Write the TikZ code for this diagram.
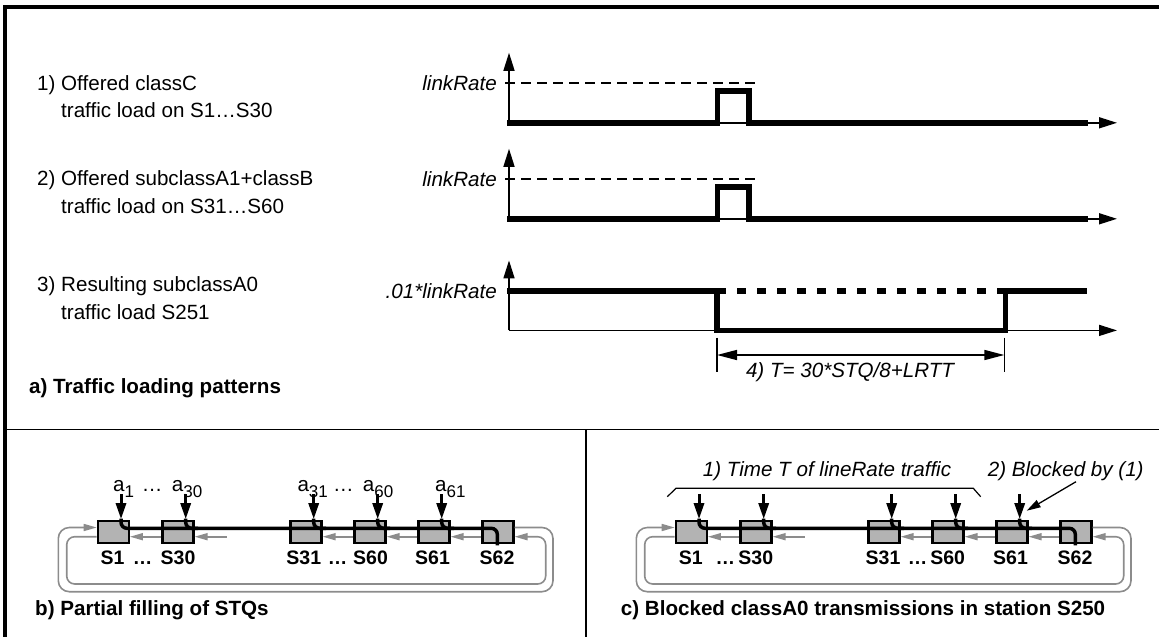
\documentclass[tikz,border=0pt]{standalone}
\usepackage{fontspec}
\setmainfont{Liberation Sans}
\usetikzlibrary{arrows.meta}
\definecolor{boxgray}{HTML}{B3B3B3}
\definecolor{ringgray}{HTML}{8C8C8C}
\newcommand{\fs}[1]{\fontsize{#1}{#1}\selectfont}
\newcommand{\sbs}[1]{\raisebox{-5.5pt}{\fs{17}#1}}
\begin{document}
\begin{tikzpicture}[x=1pt,y=-1pt,
  txt/.style={font=\fs{20.6}, inner sep=0pt, anchor=base west},
  itxt/.style={font=\fs{20.6}\itshape, inner sep=0pt},
  btxt/.style={font=\fs{20.6}\bfseries, inner sep=0pt, anchor=base west},
  slabel/.style={font=\fs{19.5}\bfseries, inner sep=0pt, anchor=base},
  axisline/.style={line width=1.5pt, -{Triangle[length=18pt,width=11pt]}},
  rateline/.style={line width=1.5pt, dash pattern=on 10pt off 6pt},
  sigline/.style={line width=5.6pt, line join=miter, line cap=butt},
  dimline/.style={line width=1.5pt},
  stq/.style={draw, line width=2.2pt, fill=boxgray, minimum width=31pt, minimum height=22.5pt, inner sep=0pt},
  gline/.style={draw=ringgray, line width=1.6pt},
  garrow/.style={gline, -{Triangle[length=13pt,width=7pt]}},
  dnarrow/.style={line width=3pt, -{Triangle[length=16pt,width=10pt]}},
  bring/.style={line width=3.5pt, rounded corners=6pt},
]
\useasboundingbox (0,0) rectangle (1159,637);
% frame
\draw[line width=3.7pt, line join=miter] (5,637) -- (5,7.2) -- (1159,7.2);
\draw[line width=1.3pt] (5,429.3) -- (1159,429.3);
\draw[line width=1.3pt] (586,429.3) -- (586,637);

% left texts
\node[txt] (t1a) at (37,90) {1) Offered classC};
\node[txt] (t1b) at (61,117.5) {traffic load on S1…S30};
\node[txt] (t2a) at (37,185.6) {2) Offered subclassA1+classB};
\node[txt] (t2b) at (61,213.2) {traffic load on S31…S60};
\node[txt] (t3a) at (37,291.5) {3) Resulting subclassA0};
\node[txt] (t3b) at (61,319) {traffic load S251};
\node[btxt] (ta) at (29,393.5) {a) Traffic loading patterns};

% graphs 1 and 2
\foreach \b/\n in {122.8/1,218.8/2}{
  \coordinate (g\n o) at (509,\b);
  \coordinate (g\n y) at (509,\b-70);
  \coordinate (g\n x) at (1117,\b);
  \draw[axisline] (g\n o) -- (g\n y);
  \draw[axisline] (g\n o) -- (g\n x);
  \draw[rateline] (505,\b-40) -- (758,\b-40);
  \draw[sigline] (507,\b) -- (717.5,\b) -- (717.5,\b-32) -- (749,\b-32) -- (749,\b) -- (1088,\b);
  \node[itxt,anchor=east] (lr\n) at (497,\b-40) {linkRate};
}

% graph 3
\coordinate (g3o) at (509,330.4);
\coordinate (g3y) at (509,260.4);
\coordinate (g3x) at (1117,330.4);
\draw[axisline] (g3o) -- (g3y);
\draw[axisline] (g3o) -- (g3x);
\draw[sigline] (507,290.8) -- (717,290.8) -- (717,330.5) -- (1005.5,330.5) -- (1005.5,290.8) -- (1087.3,290.8);
\draw[sigline, dash pattern=on 9pt off 11pt] (717,290.8) -- (1005.5,290.8);
\node[itxt,anchor=east] (lr3) at (497,290.8) {.01*linkRate};

% dimension
\coordinate (d1t) at (717,337.7);
\coordinate (d1b) at (717,371.7);
\coordinate (d2t) at (1004.3,337.7);
\coordinate (d2b) at (1004.3,371.7);
\draw[dimline] (d1t) -- (d1b);
\draw[dimline] (d2t) -- (d2b);
\coordinate (dl) at (717,355);
\coordinate (dr) at (1004.3,355);
\draw[dimline, {Triangle[length=20pt,width=10pt]}-{Triangle[length=20pt,width=10pt]}] (dl) -- (dr);
\node[itxt, anchor=base] (tT) at (850,377) {4) T= 30*STQ/8+LRTT};

% station panels
\foreach \dx/\p in {0/b,578/c}{
\begin{scope}[xshift=\dx pt]
  \foreach \cx/\i in {113.3/1,178/2,306/3,370/4,434/5,498/6}{
    \node[stq] (\p s\i) at (\cx,532) {};
  }
  % gray arrows between boxes (inner ring)
  \draw[garrow] ([yshift=-4.7pt]\p s2.west) -- ([yshift=-4.7pt]\p s1.east);
  \draw[garrow] (226.7,536.7) -- ([yshift=-4.7pt]\p s2.east);
  \draw[garrow] ([yshift=-4.7pt]\p s4.west) -- ([yshift=-4.7pt]\p s3.east);
  \draw[garrow] ([yshift=-4.7pt]\p s5.west) -- ([yshift=-4.7pt]\p s4.east);
  \draw[garrow] ([yshift=-4.7pt]\p s6.west) -- ([yshift=-4.7pt]\p s5.east);
  \draw[garrow, rounded corners=8pt] ([yshift=-4.7pt]\p s1.west) -- (66.7,536.7) -- (66.7,584) -- (545.7,584) -- (545.7,536.7) -- ([yshift=-4.7pt]\p s6.east);
  % outer ring
  \draw[garrow, rounded corners=11pt] ([yshift=4.5pt]\p s6.east) -- (553,527.5) -- (553,591.7) -- (58.3,591.7) -- (58.3,527.5) -- ([yshift=4.5pt]\p s1.west);
  % black arrows and transit line
  \foreach \i in {1,...,5}{
    \draw[dnarrow] ([xshift=7.7pt,yshift=25.5pt]\p s\i.north) -- ([xshift=7.7pt,yshift=0.5pt]\p s\i.north);
  }
  \draw[bring] ([xshift=7.7pt,yshift=1pt]\p s1.north) |- ([xshift=-0.7pt,yshift=3.7pt]\p s6.center) -- ([xshift=-0.7pt,yshift=-1pt]\p s6.south);
  \foreach \i in {2,...,5}{
    \draw[bring] ([xshift=7.7pt,yshift=1pt]\p s\i.north) |- ([xshift=20pt,yshift=3.7pt]\p s\i.center);
  }
\end{scope}
}

% panel b labels
\node[txt] (a1) at (113,491.7) {a\sbs{1}};
\node[txt] (ad1) at (141.7,491.7) {…};
\node[txt] (a30) at (171.7,491.7) {a\sbs{30}};
\node[txt] (a31) at (297.3,491.7) {a\sbs{31}};
\node[txt] (ad2) at (333,491.7) {…};
\node[txt] (a60) at (362.7,491.7) {a\sbs{60}};
\node[txt] (a61) at (435,491.7) {a\sbs{61}};

\node[slabel] (lb1) at (112.5,564.3) {S1};
\node[slabel] (lbd1) at (142.5,564.3) {…};
\node[slabel] (lb30) at (178,564.3) {S30};
\node[slabel] (lb31) at (303.8,564.3) {S31};
\node[slabel] (lbd2) at (337.5,564.3) {…};
\node[slabel] (lb60) at (370.5,564.3) {S60};
\node[slabel] (lb61) at (432.5,564.3) {S61};
\node[slabel] (lb62) at (497,564.3) {S62};
\node[btxt] (tb) at (35,615) {b) Partial filling of STQs};

% panel c labels
\node[slabel] (lc1) at (690.8,564.3) {S1};
\node[slabel] (lcd1) at (725.3,564.3) {…};
\node[slabel] (lc30) at (755.8,564.3) {S30};
\node[slabel] (lc31) at (883,564.3) {S31};
\node[slabel] (lcd2) at (917.5,564.3) {…};
\node[slabel] (lc60) at (947.7,564.3) {S60};
\node[slabel] (lc61) at (1010.5,564.3) {S61};
\node[slabel] (lc62) at (1075,564.3) {S62};
\node[btxt] (tc) at (620.7,615) {c) Blocked classA0 transmissions in station S250};

\node[itxt, anchor=base west] (tt) at (702.7,476.7) {1) Time T of lineRate traffic};
\node[itxt, anchor=base west] (tbl) at (987.7,476.7) {2) Blocked by (1)};
\draw[line width=1.2pt] (667.3,496.7) -- (676,488.3) -- (973.3,488.3) -- (980.7,496.7);
\coordinate (blk0) at (1076,481.7);
\coordinate (blk1) at (1026.7,510.7);
\draw[line width=1.3pt, -{Triangle[length=14pt,width=8pt]}] (blk0) -- (blk1);
\end{tikzpicture}
\end{document}
